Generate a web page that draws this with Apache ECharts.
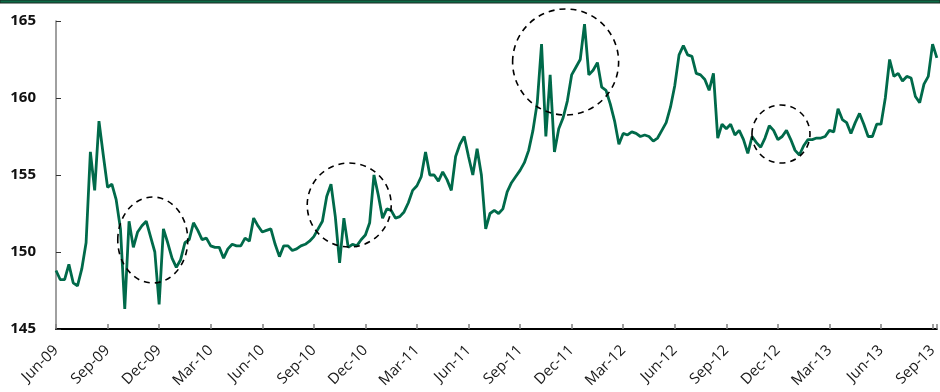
<!DOCTYPE html>
<html>
<head>
<meta charset="utf-8">
<script src="https://cdn.jsdelivr.net/npm/echarts@6/dist/echarts.min.js"></script>
<style>
  html, body { margin: 0; padding: 0; background: #fff; }
  #main { width: 940px; height: 392px; }
</style>
</head>
<body>
<div id="main"></div>
<script>
// quarter tick labels, one every 3 months starting Jun-09
var tickLabels = ['Jun-09', 'Sep-09', 'Dec-09', 'Mar-10', 'Jun-10', 'Sep-10', 'Dec-10', 'Mar-11',
  'Jun-11', 'Sep-11', 'Dec-11', 'Mar-12', 'Jun-12', 'Sep-12', 'Dec-12', 'Mar-13', 'Jun-13', 'Sep-13'];

// readings, 4 per month from Jun-09
var values = [
  148.8, 148.2, 148.2, 149.2, 148.0, 147.8, 148.9, 150.6, 156.5, 154.0, 158.5, 156.3,
  154.2, 154.4, 153.4, 151.5, 146.3, 152.0, 150.3, 151.3, 151.7, 152.0, 151.0, 150.0,
  146.6, 151.5, 150.6, 149.6, 149.0, 149.5, 150.6, 150.8, 151.9, 151.4, 150.8, 150.9,
  150.4, 150.3, 150.3, 149.6, 150.2, 150.5, 150.4, 150.4, 150.9, 150.7, 152.2, 151.7,
  151.3, 151.4, 151.5, 150.5, 149.7, 150.4, 150.4, 150.1, 150.2, 150.4, 150.5, 150.7,
  151.0, 151.5, 152.0, 153.6, 154.4, 152.3, 149.3, 152.2, 150.3, 150.5, 150.4, 150.8,
  151.1, 151.9, 155.0, 153.7, 152.2, 152.8, 152.7, 152.2, 152.3, 152.6, 153.2, 154.0,
  154.3, 154.9, 156.5, 155.0, 155.0, 154.6, 155.2, 154.7, 154.0, 156.2, 157.0, 157.5,
  156.2, 155.0, 156.7, 155.0, 151.5, 152.5, 152.7, 152.5, 152.8, 153.9, 154.5, 154.9,
  155.3, 155.8, 156.6, 157.9, 159.7, 163.5, 157.5, 161.5, 156.5, 158.0, 158.7, 159.8,
  161.5, 162.0, 162.5, 164.8, 161.5, 161.8, 162.3, 160.7, 160.5, 159.6, 158.5, 157.0,
  157.7, 157.6, 157.8, 157.7, 157.5, 157.6, 157.5, 157.2, 157.4, 157.9, 158.4, 159.4,
  160.8, 162.8, 163.4, 162.8, 162.7, 161.6, 161.5, 161.2, 160.5, 161.6, 157.4, 158.3,
  158.0, 158.3, 157.6, 157.9, 157.3, 156.4, 157.5, 157.1, 156.8, 157.4, 158.2, 157.9,
  157.3, 157.5, 157.9, 157.3, 156.6, 156.3, 156.9, 157.3, 157.3, 157.4, 157.4, 157.5,
  157.9, 157.8, 159.3, 158.6, 158.4, 157.7, 158.4, 159.0, 158.3, 157.5, 157.5, 158.3,
  158.3, 160.0, 162.5, 161.4, 161.6, 161.1, 161.4, 161.3, 160.1, 159.7, 160.9, 161.4,
  163.5, 162.6
];

// dashed rings: [month, value, rx, ry]
var rings = [
  [5.63, 150.78, 35, 43],
  [17.06, 153.05, 42, 42],
  [29.65, 162.34, 53, 53],
  [42.18, 157.66, 29, 29]
];

var points = values.map(function (v, i) { return [i / 4, v]; });

var chart = echarts.init(document.getElementById('main'));

var option = {
  animation: false,
  grid: { left: 56, right: 0, top: 21, bottom: 63 },
  xAxis: {
    type: 'value',
    min: 0,
    max: 51.25,
    interval: 3,
    splitLine: { show: false },
    axisLine: { lineStyle: { color: '#000', width: 2 } },
    axisTick: { inside: true, length: 5, lineStyle: { color: '#808080', width: 1.5 } },
    axisLabel: {
      rotate: 45,
      margin: 19,
      color: '#1a1a1a',
      fontFamily: 'Open Sans',
      fontSize: 15,
      formatter: function (v) {
        if (v % 3 !== 0) return '';
        return tickLabels[v / 3] || '';
      }
    }
  },
  yAxis: {
    type: 'value',
    min: 145,
    max: 165,
    interval: 5,
    splitLine: { show: false },
    axisLine: { show: true, lineStyle: { color: '#808080', width: 1.5 } },
    axisTick: { show: true, inside: true, length: 5, lineStyle: { color: '#333', width: 1 } },
    axisLabel: {
      margin: 20,
      color: '#111',
      fontFamily: 'Open Sans',
      fontWeight: 'bold',
      fontSize: 15
    }
  },
  series: [{
    type: 'line',
    data: points,
    showSymbol: false,
    lineStyle: { color: '#006a4a', width: 2.8 },
    z: 3
  }]
};

chart.setOption(option);

var gfx = [{
  type: 'rect',
  shape: { x: 0, y: 0, width: 940, height: 3 },
  style: { fill: '#0d6b47', stroke: '#1a2a22', lineWidth: 1 },
  z: 10
}];

rings.forEach(function (r) {
  var c = chart.convertToPixel({ gridIndex: 0 }, [r[0], r[1]]);
  gfx.push({
    type: 'ellipse',
    shape: { cx: c[0], cy: c[1], rx: r[2], ry: r[3] },
    style: { fill: null, stroke: '#000', lineWidth: 1.6, lineDash: [6, 5] },
    z: 5
  });
});

chart.setOption({ graphic: gfx });
</script>
</body>
</html>
